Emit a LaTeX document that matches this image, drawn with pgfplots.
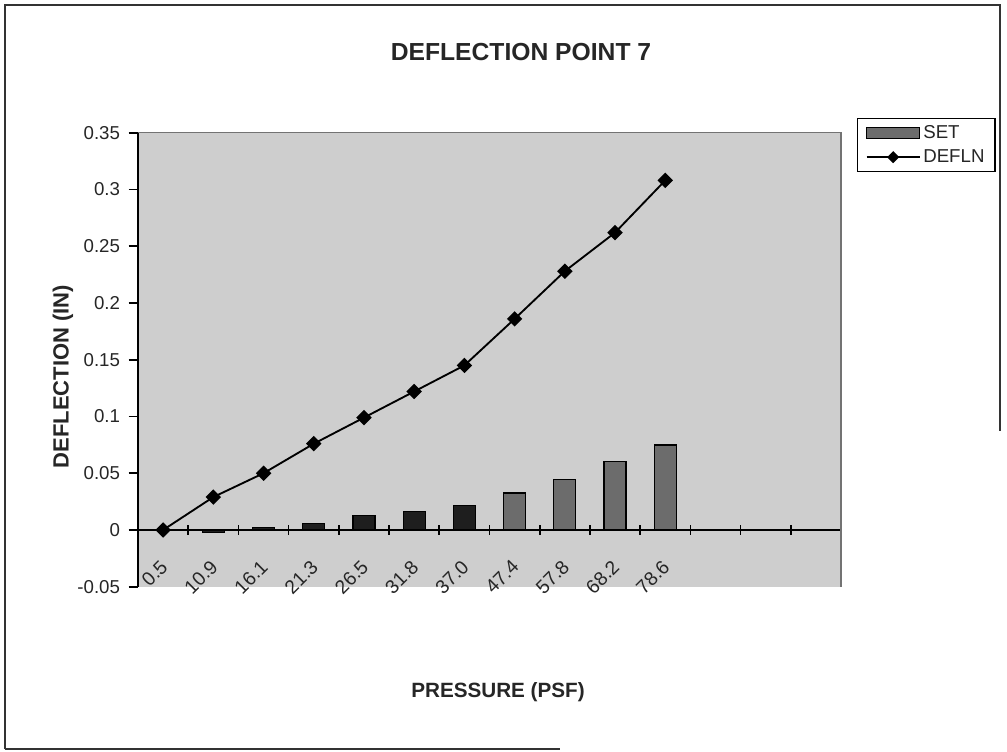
\documentclass[border=0pt]{standalone}
\usepackage{pgfplots}
\pgfplotsset{compat=1.18}
\usepackage{fontspec}
\setmainfont{Liberation Sans}
\definecolor{bggray}{RGB}{206,206,206}
\definecolor{bardark}{RGB}{30,30,30}
\definecolor{bargray}{RGB}{108,108,108}
\begin{document}
\begin{tikzpicture}
\useasboundingbox (0,0) rectangle (755.25pt,563.25pt);
% outer frame
\draw[line width=1pt, black!80] (3.75pt,1.5pt) -- (3.75pt,559.5pt) -- (750pt,559.5pt) -- (750pt,240pt);
\draw[line width=1pt, black!80] (3.75pt,1.5pt) -- (420pt,1.5pt);
\node[font=\bfseries\fontsize{18.5}{20}\selectfont, text=black!85] at (390.75pt,524.25pt) {DEFLECTION POINT 7};
\node[font=\bfseries\fontsize{16.5}{18}\selectfont, text=black!85, rotate=90] at (47.25pt,280.9pt) {DEFLECTION (IN)};
\node[font=\bfseries\fontsize{15.5}{17}\selectfont, text=black!85] at (373.5pt,44.5pt) {PRESSURE (PSF)};
\begin{axis}[
  at={(103.5pt,123.2pt)}, anchor=south west,
  scale only axis, width=527.25pt, height=340.5pt,
  xmin=-0.5, xmax=13.5, ymin=-0.05, ymax=0.35,
  axis x line=middle, axis y line=left,
  axis line style={-, line width=1.4pt, black},
  axis background/.style={fill=bggray},
  xtick={0.5,1.5,...,13.5},
  xticklabels={},
  x tick style={line width=1.2pt, black},
  extra x ticks={0,...,10},
  extra x tick labels={0.5,10.9,16.1,21.3,26.5,31.8,37.0,47.4,57.8,68.2,78.6},
  extra x tick style={major tick length=0pt, tick style={draw=none},
    tick label style={xshift=-3pt, yshift=-20pt, rotate=45, anchor=north east, font=\fontsize{14.5}{16}\selectfont, text=black!85, inner sep=1pt}},
  ytick={-0.05,0,0.05,0.1,0.15,0.2,0.25,0.3,0.35},
  yticklabels={-0.05,0,0.05,0.1,0.15,0.2,0.25,0.3,0.35},
  y tick style={line width=1.2pt, black},
  major tick length=7pt,
  xtick align=center, ytick align=outside,
  yticklabel style={font=\fontsize{14}{16}\selectfont, text=black!85, xshift=-3pt},
  /pgf/number format/assume math mode=true,
  clip=false,
  legend style={at={(1.0228,1.0324)}, anchor=north west, draw=black, line width=1pt,
    font=\fontsize{14}{16}\selectfont, text=black!85, cells={anchor=west},
    inner xsep=6pt, inner ysep=3pt, row sep=3pt},
]
\addplot[ybar, bar width=16.5pt, bar shift=0pt, fill=bardark, draw=black, line width=0.8pt, forget plot]
  coordinates {(1,-0.002) (2,0.002) (3,0.006) (4,0.0125) (5,0.0165) (6,0.0215)};
\addplot[ybar, bar width=16.5pt, bar shift=0pt, fill=bargray, draw=black, line width=1pt,
  legend image code/.code={\draw[fill=bargray,draw=black,line width=0.8pt] (0pt,-4pt) rectangle (40pt,4pt);}]
  coordinates {(7,0.0325) (8,0.0445) (9,0.0605) (10,0.075)};
\addlegendentry{SET}
\addplot[black, line width=1.4pt, mark=square*, mark size=3.4pt, mark options={rotate=45, fill=black},
  legend image code/.code={\draw[black,line width=1.2pt] (0pt,0pt) -- (40pt,0pt); \fill[black,rotate around={45:(20pt,0pt)}] (17.5pt,-2.5pt) rectangle (22.5pt,2.5pt);}]
  coordinates {(0,0) (1,0.029) (2,0.050) (3,0.076) (4,0.099) (5,0.122) (6,0.145) (7,0.186) (8,0.228) (9,0.262) (10,0.308)};
\addlegendentry{DEFLN}
\draw[black!55, line width=0.8pt] (rel axis cs:0,1) -- (rel axis cs:1,1) -- (rel axis cs:1,0);
\end{axis}
\end{tikzpicture}
\end{document}
